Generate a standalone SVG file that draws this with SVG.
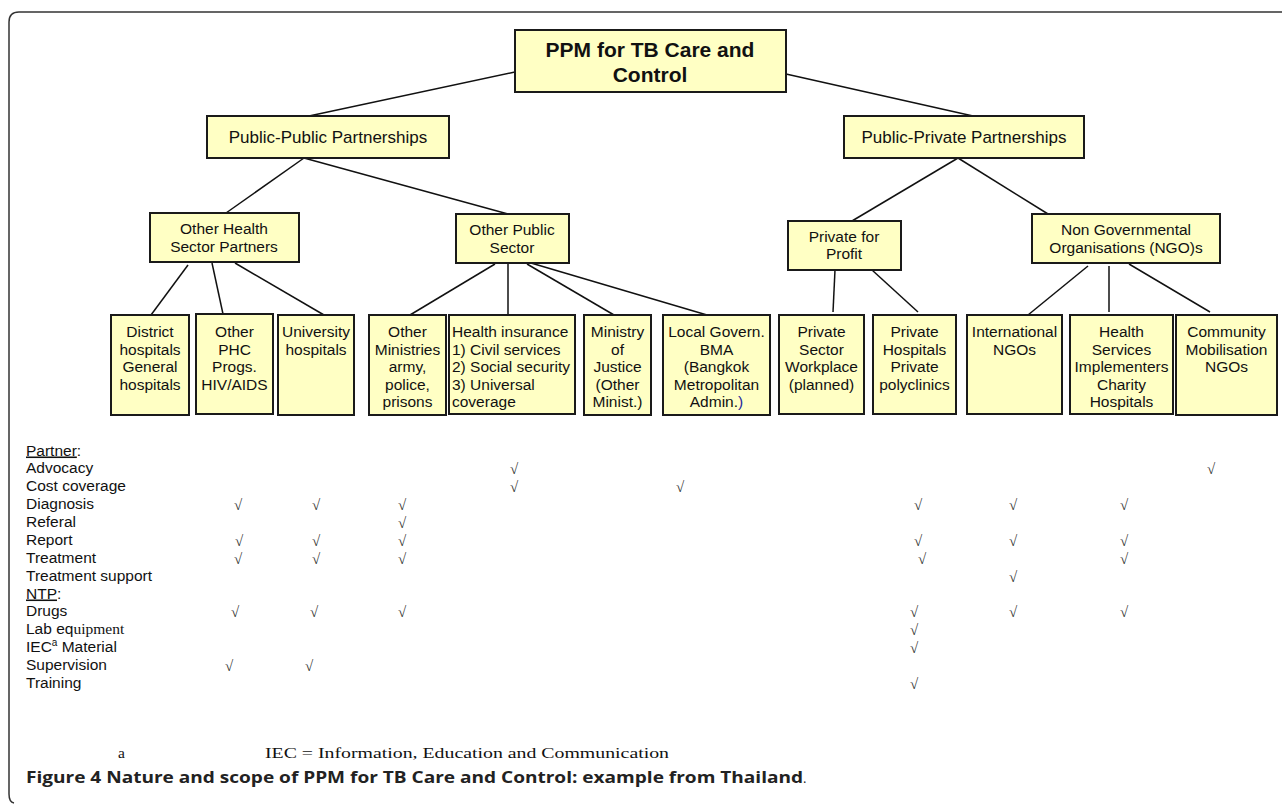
<svg xmlns="http://www.w3.org/2000/svg" width="1282" height="804" viewBox="0 0 1282 804">
<style>
.box{fill:#ffffc4;stroke:#1a1a1a;stroke-width:2}
.t{font-family:"Liberation Sans",Arial,sans-serif;font-size:15.5px;fill:#111;text-anchor:middle}
.tl{font-family:"Liberation Sans",Arial,sans-serif;font-size:15.5px;fill:#111}
.tp{font-family:"Liberation Sans",Arial,sans-serif;font-size:17px;fill:#111;text-anchor:middle}
.tb{font-family:"Liberation Sans",Arial,sans-serif;font-size:21px;font-weight:bold;fill:#111;text-anchor:middle}
.row{font-family:"Liberation Sans",Arial,sans-serif;font-size:15.5px;fill:#111}
.ck{font-family:"Liberation Serif","Times New Roman",serif;font-size:15px;fill:#333}
.ser{font-family:"Liberation Serif","Times New Roman",serif;font-size:15.5px;fill:#111}
.conn line{stroke:#111;stroke-width:1.5}
</style>
<path d="M1282 12 H19 Q9 12 9 22 V794 Q9 802 14 803" fill="none" stroke="#333" stroke-width="1.5"/>

<g class="conn" id="connectors">
<line x1="515" y1="72" x2="309" y2="116"/>
<line x1="786" y1="74" x2="973" y2="116"/>
<line x1="304" y1="158" x2="226" y2="213"/>
<line x1="304" y1="158" x2="508" y2="214"/>
<line x1="958" y1="158" x2="852" y2="221"/>
<line x1="958" y1="158" x2="1048" y2="214"/>
<line x1="188" y1="265" x2="151" y2="315"/>
<line x1="212" y1="263" x2="223" y2="314"/>
<line x1="235" y1="263" x2="324" y2="315"/>
<line x1="495" y1="264" x2="410" y2="315"/>
<line x1="508" y1="264" x2="508" y2="315"/>
<line x1="527" y1="264" x2="614" y2="315"/>
<line x1="531" y1="263" x2="707" y2="315"/>
<line x1="835" y1="270" x2="833" y2="312"/>
<line x1="872" y1="270" x2="918" y2="312"/>
<line x1="1088" y1="266" x2="1028" y2="315"/>
<line x1="1109" y1="266" x2="1109" y2="312"/>
<line x1="1129" y1="264" x2="1210" y2="312"/>
</g>

<g id="root"><rect class="box" x="515" y="30" width="271" height="62"/>
<text class="tb" x="650" y="57">PPM for TB Care and</text><text class="tb" x="650" y="82">Control</text></g>

<g id="public-public"><rect class="box" x="207" y="116" width="242" height="42"/><text class="tp" x="328" y="143">Public-Public Partnerships</text></g>
<g id="public-private"><rect class="box" x="844" y="116" width="240" height="42"/><text class="tp" x="964" y="143">Public-Private Partnerships</text></g>

<g id="other-health"><rect class="box" x="150" y="213" width="149" height="49"/><text class="t" x="224" y="234">Other Health</text><text class="t" x="224" y="252">Sector Partners</text></g>
<g id="other-public"><rect class="box" x="456" y="214" width="113" height="49"/><text class="t" x="512" y="235">Other Public</text><text class="t" x="512" y="253">Sector</text></g>
<g id="private-profit"><rect class="box" x="788" y="221" width="113" height="49"/><text class="t" x="844" y="242">Private for</text><text class="t" x="844" y="259">Profit</text></g>
<g id="ngo"><rect class="box" x="1032" y="214" width="188" height="49"/><text class="t" x="1126" y="235">Non Governmental</text><text class="t" x="1126" y="253">Organisations (NGO)s</text></g>

<g id="district"><rect class="box" x="111" y="315" width="78" height="100"/>
<text class="t" x="150" y="337">District</text><text class="t" x="150" y="354.5">hospitals</text><text class="t" x="150" y="372">General</text><text class="t" x="150" y="389.5">hospitals</text></g>
<g id="phc"><rect class="box" x="196" y="314" width="77" height="100"/>
<text class="t" x="234.5" y="337">Other</text><text class="t" x="234.5" y="354.5">PHC</text><text class="t" x="234.5" y="372">Progs.</text><text class="t" x="234.5" y="389.5">HIV/AIDS</text></g>
<g id="university"><rect class="box" x="278" y="315" width="76" height="100"/>
<text class="t" x="316" y="337">University</text><text class="t" x="316" y="354.5">hospitals</text></g>
<g id="ministries"><rect class="box" x="369" y="315" width="77" height="100"/>
<text class="t" x="407.5" y="337">Other</text><text class="t" x="407.5" y="354.5">Ministries</text><text class="t" x="407.5" y="372">army,</text><text class="t" x="407.5" y="389.5">police,</text><text class="t" x="407.5" y="407">prisons</text></g>
<g id="insurance"><rect class="box" x="449" y="315" width="126" height="99"/>
<text class="tl" x="452" y="337">Health insurance</text><text class="tl" x="452" y="354.5">1) Civil services</text><text class="tl" x="452" y="372">2) Social security</text><text class="tl" x="452" y="389.5">3) Universal</text><text class="tl" x="452" y="407">coverage</text></g>
<g id="justice"><rect class="box" x="584" y="315" width="67" height="100"/>
<text class="t" x="617.5" y="337">Ministry</text><text class="t" x="617.5" y="354.5">of</text><text class="t" x="617.5" y="372">Justice</text><text class="t" x="617.5" y="389.5">(Other</text><text class="t" x="617.5" y="407">Minist.)</text></g>
<g id="local-gov"><rect class="box" x="663" y="315" width="107" height="100"/>
<text class="t" x="716.5" y="337">Local Govern.</text><text class="t" x="716.5" y="354.5">BMA</text><text class="t" x="716.5" y="372">(Bangkok</text><text class="t" x="716.5" y="389.5">Metropolitan</text><text class="t" x="716.5" y="407">Admin.<tspan fill="#1f2a9e">)</tspan></text></g>
<g id="workplace"><rect class="box" x="779" y="315" width="85" height="99"/>
<text class="t" x="821.5" y="337">Private</text><text class="t" x="821.5" y="354.5">Sector</text><text class="t" x="821.5" y="372">Workplace</text><text class="t" x="821.5" y="389.5">(planned)</text></g>
<g id="private-hosp"><rect class="box" x="873" y="315" width="83" height="99"/>
<text class="t" x="914.5" y="337">Private</text><text class="t" x="914.5" y="354.5">Hospitals</text><text class="t" x="914.5" y="372">Private</text><text class="t" x="914.5" y="389.5">polyclinics</text></g>
<g id="intl-ngo"><rect class="box" x="967" y="315" width="95" height="99"/>
<text class="t" x="1014.5" y="337">International</text><text class="t" x="1014.5" y="354.5">NGOs</text></g>
<g id="health-services"><rect class="box" x="1070" y="315" width="103" height="99"/>
<text class="t" x="1121.5" y="337">Health</text><text class="t" x="1121.5" y="354.5">Services</text><text class="t" x="1121.5" y="372">Implementers</text><text class="t" x="1121.5" y="389.5">Charity</text><text class="t" x="1121.5" y="407">Hospitals</text></g>
<g id="community"><rect class="box" x="1176" y="315" width="101" height="100"/>
<text class="t" x="1226.5" y="337">Community</text><text class="t" x="1226.5" y="354.5">Mobilisation</text><text class="t" x="1226.5" y="372">NGOs</text></g>

<g id="table">
<text class="row" x="26" y="455.5"><tspan text-decoration="underline">Partner</tspan>:</text>
<text class="row" x="26" y="473">Advocacy</text>
<text class="row" x="26" y="491">Cost coverage</text>
<text class="row" x="26" y="509">Diagnosis</text>
<text class="row" x="26" y="527">Referal</text>
<text class="row" x="26" y="544.5">Report</text>
<text class="row" x="26" y="562.5">Treatment</text>
<text class="row" x="26" y="580.5">Treatment support</text>
<text class="row" x="26" y="598.5"><tspan text-decoration="underline">NTP</tspan>:</text>
<text class="row" x="26" y="616">Drugs</text>
<text class="row" x="26" y="634">Lab eq<tspan class="ser" font-size="15">uipment</tspan></text>
<text class="row" x="26" y="652">IEC<tspan font-size="10" dy="-6">a</tspan><tspan dy="6"> Material</tspan></text>
<text class="row" x="26" y="670">Supervision</text>
<text class="row" x="26" y="688">Training</text>

<g class="ck">
<text x="510" y="474">√</text><text x="1207" y="474">√</text>
<text x="510" y="492">√</text><text x="676" y="492">√</text>
<text x="234" y="510">√</text><text x="312" y="510">√</text><text x="398" y="510">√</text><text x="914" y="510">√</text><text x="1009" y="510">√</text><text x="1120" y="510">√</text>
<text x="398" y="528">√</text>
<text x="235" y="546">√</text><text x="312" y="546">√</text><text x="398" y="546">√</text><text x="914" y="546">√</text><text x="1009" y="546">√</text><text x="1120" y="546">√</text>
<text x="234" y="564">√</text><text x="312" y="564">√</text><text x="398" y="564">√</text><text x="918" y="564">√</text><text x="1120" y="564">√</text>
<text x="1009" y="582">√</text>
<text x="231" y="617">√</text><text x="310" y="617">√</text><text x="398" y="617">√</text><text x="910" y="617">√</text><text x="1009" y="617">√</text><text x="1120" y="617">√</text>
<text x="910" y="635">√</text>
<text x="910" y="653">√</text>
<text x="225" y="671">√</text><text x="305" y="671">√</text>
<text x="910" y="689">√</text>
</g>
</g>

<text class="ser" x="118" y="758" font-size="18.5">a</text>
<text class="ser" x="265" y="758" font-size="18.5" textLength="404" lengthAdjust="spacingAndGlyphs">IEC = Information, Education and Communication</text>
<text x="26" y="783" font-family="'Open Sans','Noto Sans',sans-serif" font-size="16" font-weight="bold" fill="#222"><tspan textLength="777" lengthAdjust="spacingAndGlyphs">Figure 4 Nature and scope of PPM for TB Care and Control: example from Thailand</tspan><tspan font-weight="normal" font-size="13">.</tspan></text>
</svg>
